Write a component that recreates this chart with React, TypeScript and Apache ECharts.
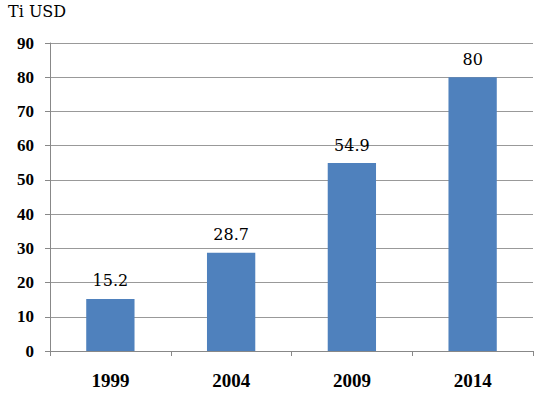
import React, { useEffect, useRef } from "react";
import * as echarts from "echarts";

const categories = ["1999", "2004", "2009", "2014"];
const values = [15.2, 28.7, 54.9, 80];
const unitLabel = "Ti USD";

const FONT = "Liberation Serif";
const FONT_REG = "DejaVu Serif";

export default function App() {
  const ref = useRef<HTMLDivElement>(null);
  useEffect(() => {
    if (!ref.current) return;
    const chart = echarts.init(ref.current, null, { renderer: "svg" });
    chart.setOption({
      animation: false,
      backgroundColor: "#ffffff",
      graphic: [
        {
          type: "text",
          left: 8,
          top: 3,
          style: { text: unitLabel, fontFamily: FONT_REG, fontSize: 16, fill: "#000" },
        },
      ],
      grid: { left: 50, right: 7, top: 43, bottom: 44 },
      xAxis: {
        type: "category",
        data: categories,
        axisLine: { lineStyle: { color: "#888888", width: 1 } },
        axisTick: { show: true, alignWithLabel: false, length: 5, lineStyle: { color: "#888888" } },
        axisLabel: {
          color: "#000",
          fontFamily: FONT,
          fontWeight: "bold",
          fontSize: 19,
          margin: 20,
        },
      },
      yAxis: {
        type: "value",
        min: 0,
        max: 90,
        interval: 10,
        axisLine: { show: true, lineStyle: { color: "#888888", width: 1 } },
        axisTick: { show: true, length: 5, lineStyle: { color: "#888888" } },
        splitLine: { show: true, lineStyle: { color: "#999999", width: 1 } },
        axisLabel: {
          color: "#000",
          fontFamily: FONT,
          fontWeight: "bold",
          fontSize: 17,
          margin: 16,
        },
      },
      series: [
        {
          type: "bar",
          data: values,
          barWidth: "40%",
          itemStyle: { color: "#4F81BD" },
          label: {
            show: true,
            position: "top",
            distance: 10,
            color: "#000",
            fontFamily: FONT_REG,
            fontWeight: "normal",
            fontSize: 16,
          },
        },
      ],
    });
    return () => chart.dispose();
  }, []);
  return (
    <div
      ref={ref}
      style={{ position: "fixed", left: 0, top: 0, width: 540, height: 395 }}
    />
  );
}
